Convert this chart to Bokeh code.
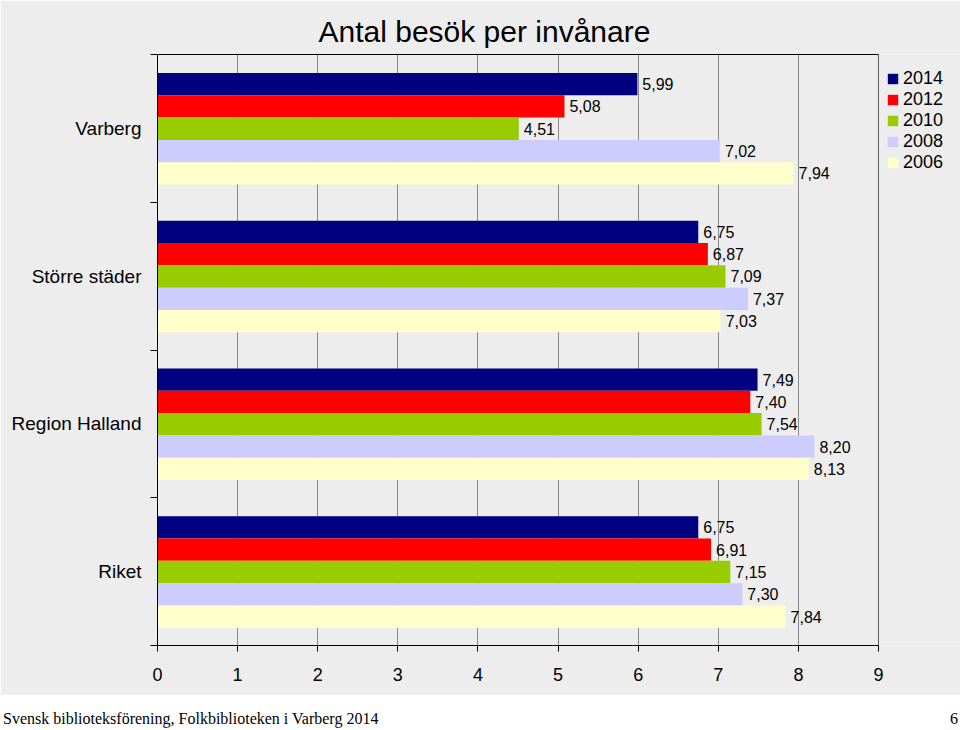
from bokeh.plotting import figure
from bokeh.models import (Range1d, FixedTicker, ColumnDataSource, Legend, LegendItem, Div,
                          BoxAnnotation, LinearAxis)
from bokeh.layouts import column
from bokeh.core.properties import value
from bokeh.embed import file_html
from bokeh.resources import INLINE

# ---------------- data ----------------
categories = ["Varberg", "Större städer", "Region Halland", "Riket"]
years = ["2014", "2012", "2010", "2008", "2006"]
v2014 = [5.99, 6.75, 7.49, 6.75]
v2012 = [5.08, 6.87, 7.40, 6.91]
v2010 = [4.51, 7.09, 7.54, 7.15]
v2008 = [7.02, 7.37, 8.20, 7.30]
v2006 = [7.94, 7.03, 8.13, 7.84]
series = [v2014, v2012, v2010, v2008, v2006]
colors = ["#000080", "#FF0000", "#99CC00", "#CCCCFF", "#FFFFCC"]
x_ticks = list(range(0, 10))
x_max = 9
title_text = "Antal besök per invånare"
footer_text = "Svensk biblioteksförening, Folkbiblioteken i Varberg 2014"
page_no = "6"

FONT = "Liberation Sans"
BG = "#ededed"
W, H = 960, 695
LEFT = 157
PLOT_RIGHT = 878          # pixel where the value axis ends (x = 9)
TOP, BOTTOM = 54, 50

n_cat = len(categories)
bar_h = 0.151
group_top_pad = 0.125

frame_w = W - LEFT
frame_h = H - TOP - BOTTOM
x_end = x_max * frame_w / (PLOT_RIGHT - LEFT)

p = figure(width=W, height=H, output_backend="svg", toolbar_location=None,
           x_range=Range1d(0, x_end), y_range=Range1d(0, n_cat),
           min_border_left=LEFT, min_border_right=0, min_border_top=TOP,
           min_border_bottom=BOTTOM,
           background_fill_color=BG, border_fill_color=BG,
           outline_line_color=None)

p.title.text = title_text
p.title.align = "left"
p.title.offset = 161
p.title.text_font = FONT
p.title.text_font_size = "30px"
p.title.text_font_style = "normal"
p.title.text_color = "#000000"
p.title.standoff = 14

# grid
p.xgrid.ticker = FixedTicker(ticks=x_ticks)
p.xgrid.grid_line_color = "#8a8a8a"
p.xgrid.grid_line_width = 1
p.ygrid.grid_line_color = None

renderers = []
for j, (yr, vals, col) in enumerate(zip(years, series, colors)):
    ys = []
    for i in range(n_cat):
        band_bottom = n_cat - 1 - i
        ys.append(band_bottom + 1 - group_top_pad - (j + 0.5) * bar_h)
    src = ColumnDataSource(dict(y=ys, v=vals,
                                lab=[("%.2f" % v).replace(".", ",") for v in vals]))
    r = p.hbar(y="y", right="v", left=0, height=bar_h, source=src,
               fill_color=col, line_color=None)
    renderers.append(r)
    p.text(x="v", y="y", text="lab", source=src, x_offset=5,
           text_baseline="middle", text_align="left",
           text_font=value(FONT), text_font_size="16px", text_color="#000000")

# plot-area border (0..9 x whole category range)
p.add_layout(BoxAnnotation(left=0, right=x_max, bottom=0, top=n_cat,
                           fill_alpha=0, line_color="#000000", line_width=1))

# bottom value axis
bx = p.below[0]
bx.ticker = FixedTicker(ticks=x_ticks)
bx.bounds = (0, x_max)
bx.major_tick_out = 6
bx.major_tick_in = 0
bx.minor_tick_line_color = None
bx.major_label_standoff = 16
bx.major_label_text_font = FONT
bx.major_label_text_font_size = "18px"
bx.major_label_text_color = "#000000"
bx.axis_line_color = "#000000"
bx.major_tick_line_color = "#000000"

# top border of the plot area as a bare axis line bounded to 0..9
top_axis = LinearAxis(ticker=FixedTicker(ticks=[]), bounds=(0, x_max),
                      major_tick_out=0, major_tick_in=0, minor_tick_out=0, minor_tick_in=0,
                      major_label_standoff=0,
                      axis_line_color="#000000", axis_line_width=1)
p.add_layout(top_axis, "above")

# y axis: labels at band centres, tick marks at band boundaries
centres = [n_cat - 1 - i + 0.5 for i in range(n_cat)]
bounds = list(range(0, n_cat + 1))
ly = p.left[0]
ly.ticker = FixedTicker(ticks=centres, minor_ticks=bounds)
ly.bounds = (0, n_cat)
ly.major_label_overrides = {c: cat for c, cat in zip(centres, categories)}
ly.major_tick_line_color = None
ly.minor_tick_out = 7
ly.minor_tick_in = 0
ly.minor_tick_line_color = "#000000"
ly.major_label_standoff = 9
ly.major_label_text_font = FONT
ly.major_label_text_font_size = "19px"
ly.major_label_text_color = "#000000"
ly.axis_line_color = "#000000"

# legend to the right of the plot area
leg_rows_h = 5 * 21
legend = Legend(items=[LegendItem(label=yr, renderers=[r]) for yr, r in zip(years, renderers)],
                location=(PLOT_RIGHT + 8 - LEFT, frame_h - 14 - leg_rows_h),
                orientation="vertical",
                background_fill_alpha=0, border_line_color=None,
                glyph_width=13, glyph_height=13, label_standoff=4,
                label_text_font=FONT, label_text_font_size="18px",
                label_text_color="#000000",
                label_height=18, spacing=0, padding=0, margin=0)
p.add_layout(legend)

# footer strip
footer = Div(text=(
    '<div style="display:flex;justify-content:space-between;align-items:center;'
    'width:960px;height:35px;box-sizing:border-box;padding:13px 2px 0 3px;'
    'background:#ffffff;color:#000000;font-family:\'Liberation Serif\',serif;font-size:16px;">'
    '<span>%s</span><span>%s</span></div>' % (footer_text, page_no)),
    width=960, height=35, styles={"background-color": "#ffffff", "margin": "0"})

layout = column(p, footer, spacing=0)
open("out.html", "w").write(file_html(layout, INLINE))
